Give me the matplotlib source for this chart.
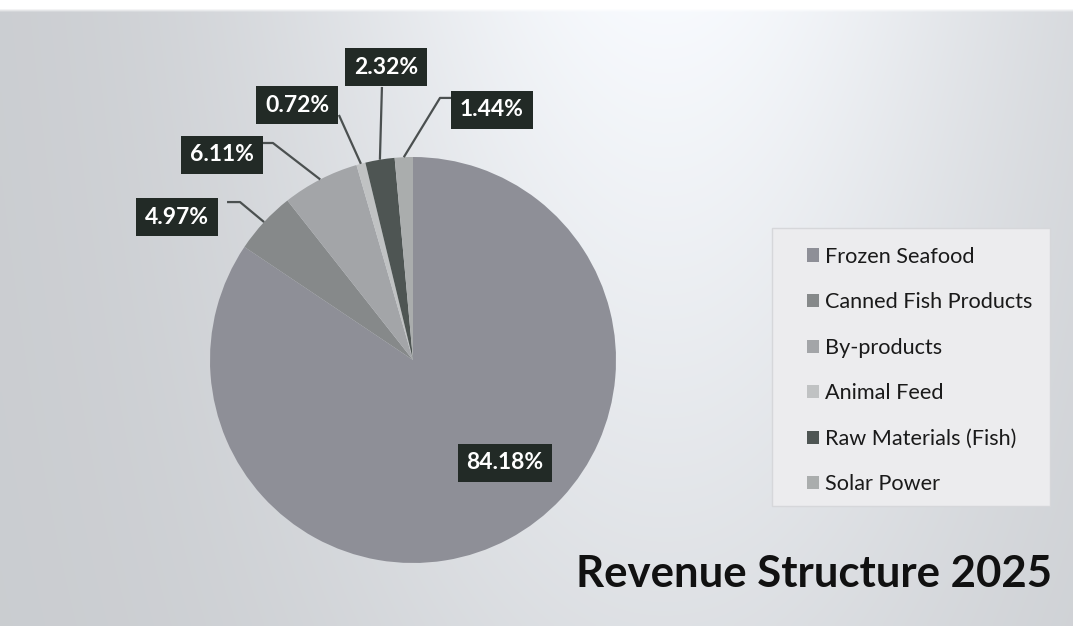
import numpy as np
import matplotlib
matplotlib.use("Agg")
from matplotlib import pyplot as plt
from matplotlib.patches import Rectangle

plt.rcParams['font.family'] = ['Lato', 'DejaVu Sans']

# data
segments = ["Frozen Seafood", "Canned Fish Products", "By-products",
            "Animal Feed", "Raw Materials (Fish)", "Solar Power"]
shares = [84.18, 4.97, 6.11, 0.72, 2.32, 1.44]
share_labels = ["84.18%", "4.97%", "6.11%", "0.72%", "2.32%", "1.44%"]
colors = ['#8e8f97', '#86898a', '#a3a5a8', '#c0c2c3', '#4e5553', '#aaadad']

# label box placement (pie radius = 1, centre at 0,0)
label_pos = [(0.453, -0.507), (-1.163, 0.704), (-0.941, 1.010),
             (-0.571, 1.256), (-0.133, 1.443), (0.389, 1.232)]
leader_start = [None, (-0.916, 0.778), (-0.739, 1.069),
                (-0.365, 1.207), (-0.153, 1.345), (0.192, 1.291)]
leader_elbow = [None, (-0.852, 0.778), (-0.690, 1.069),
                (-0.365, 1.207), (-0.153, 1.345), (0.133, 1.291)]

W, H = 1073, 626
cx, cy, r = 413, 360, 203

fig = plt.figure(figsize=(W / 100, H / 100), dpi=100)
ax = fig.add_axes([0, 0, 1, 1])

# scanned-paper style background
xx, yy = np.meshgrid(np.linspace(0, 1, 300), np.linspace(0, 1, 180))
b = 0.80 + 0.18 * np.exp(-((xx - 0.62) / 0.36) ** 2) * (1 - 0.55 * yy)
b = np.clip(b, 0, 1)
bg = np.dstack([b - 0.01, b, b + 0.015])
bg[yy < 10 / H] = 1.0
bg = np.clip(bg, 0, 1)
xmin, xmax = -cx / r, (W - cx) / r
ymin, ymax = -(H - cy) / r, cy / r
ax.imshow(bg, extent=(xmin, xmax, ymin, ymax), aspect='auto', zorder=0,
          interpolation='bilinear')

wedges, _ = ax.pie(shares, colors=colors, startangle=90, counterclock=False,
                   radius=1, wedgeprops=dict(linewidth=0))
for w in wedges:
    w.set_zorder(2)

for i, w in enumerate(wedges):
    mid = np.deg2rad((w.theta1 + w.theta2) / 2)
    ex, ey = np.cos(mid), np.sin(mid)
    if leader_start[i] is not None:
        sx, sy = leader_start[i]
        kx, ky = leader_elbow[i]
        ax.plot([sx, kx, ex], [sy, ky, ey], color='#4b5050', lw=1.6, zorder=3,
                solid_capstyle='butt')
    tx, ty = label_pos[i]
    ax.text(tx, ty, share_labels[i], color='white', fontsize=16.5,
            fontweight='bold', ha='center', va='center', zorder=4,
            bbox=dict(boxstyle='square,pad=0.38', facecolor='#222a26',
                      edgecolor='none'))

ax.set_xlim(xmin, xmax)
ax.set_ylim(ymin, ymax)
ax.set_aspect('auto')
ax.axis('off')

# legend box
fig.patches.append(Rectangle((772 / W, 1 - 506 / H), 278 / W, 278 / H,
                             transform=fig.transFigure, facecolor='#ececee',
                             edgecolor='#d6d7da', lw=1, zorder=1))
leg = fig.legend(wedges, segments, loc='upper left',
                 bbox_to_anchor=(798 / W, 1 - 238 / H), frameon=False,
                 fontsize=15.6, handlelength=0.55, handleheight=0.55,
                 handletextpad=0.3, labelspacing=1.18, borderaxespad=0)
for t in leg.get_texts():
    t.set_color('#1a1a1a')

fig.text(1052 / W, 1 - 574 / H, "Revenue Structure 2025", fontsize=31.5,
         fontweight='bold', ha='right', va='center', color='#111111')

fig.savefig("out.png", dpi=100)
